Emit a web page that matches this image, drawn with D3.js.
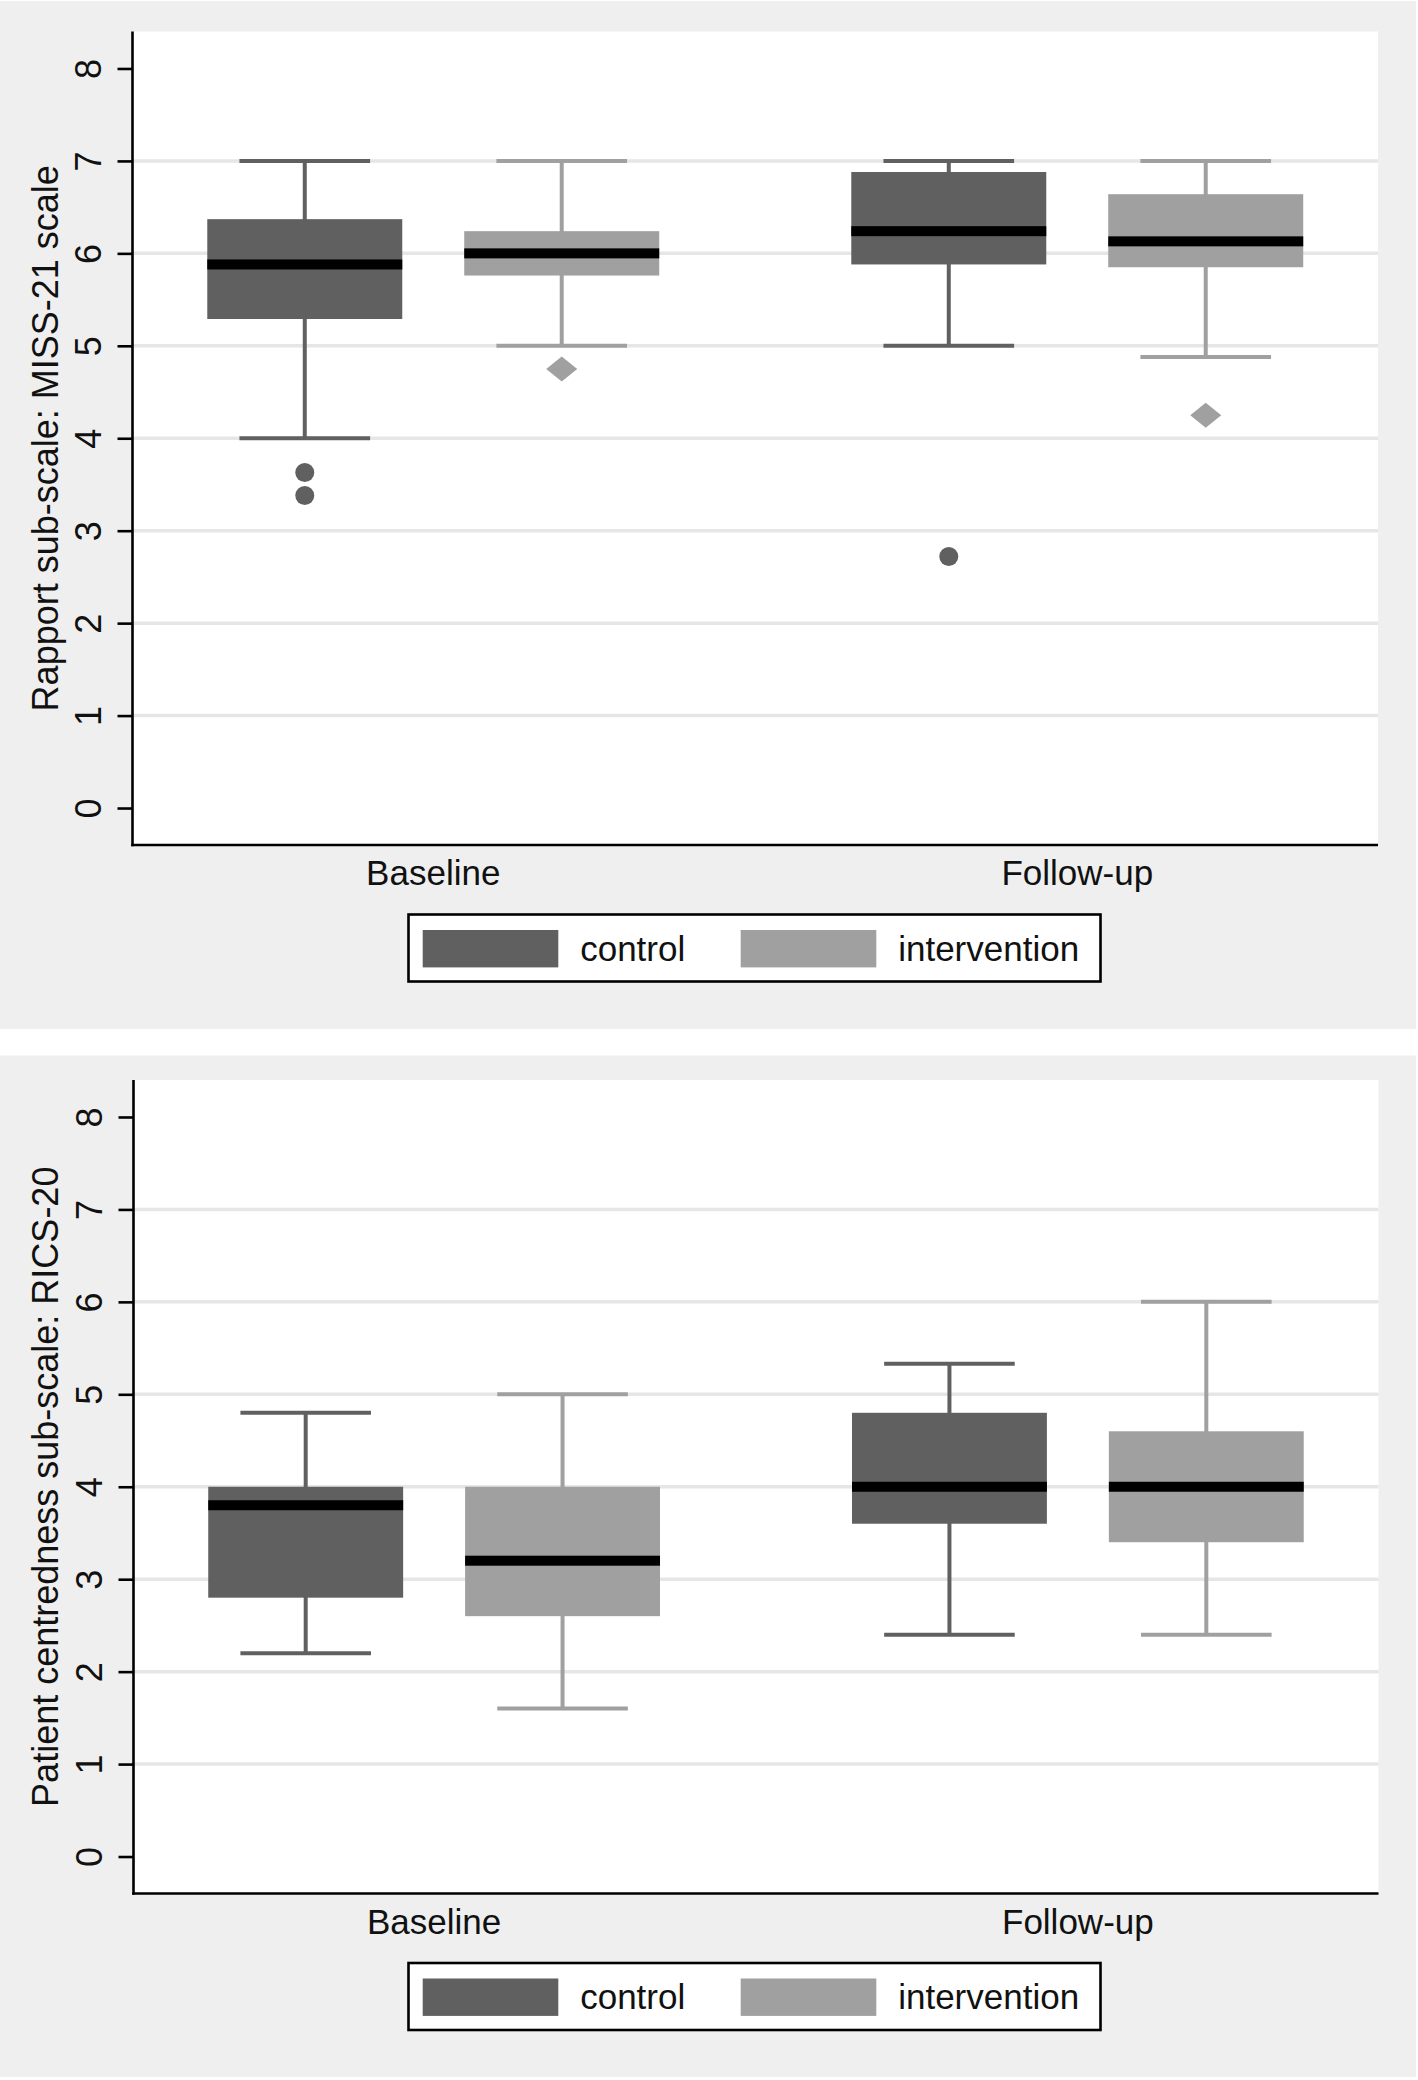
<!DOCTYPE html>
<html>
<head>
<meta charset="utf-8">
<script src="https://cdn.jsdelivr.net/npm/d3@7"></script>
<style>
  html, body { margin: 0; padding: 0; background: #ffffff; }
  svg { display: block; }
  text { font-family: "Liberation Sans", Arial, Helvetica, sans-serif; fill: #111; }
</style>
</head>
<body>
<svg id="chart" width="1418" height="2080"></svg>
<script>
// ---------------- DATA ----------------
const groups = ["Baseline", "Follow-up"];
const series = ["control", "intervention"];
const yTicks = [0, 1, 2, 3, 4, 5, 6, 7, 8];
const gridValues = [1, 2, 3, 4, 5, 6, 7];

// box stats per group: [lower whisker, Q1, median, Q3, upper whisker]
const rapportControlStats = [[4.0, 5.29, 5.88, 6.37, 7.0], [5.0, 5.88, 6.24, 6.88, 7.0]];
const rapportInterventionStats = [[5.0, 5.76, 6.0, 6.24, 7.0], [4.88, 5.85, 6.13, 6.64, 7.0]];
const rapportControlOutliers = [[3.63, 3.38], [2.72]];
const rapportInterventionOutliers = [[4.75], [4.25]];

const ricsControlStats = [[2.2, 2.8, 3.8, 4.0, 4.8], [2.4, 3.6, 4.0, 4.8, 5.33]];
const ricsInterventionStats = [[1.6, 2.6, 3.2, 4.0, 5.0], [2.4, 3.4, 4.0, 4.6, 6.0]];
const ricsControlOutliers = [[], []];
const ricsInterventionOutliers = [[], []];

const panelTitles = ["Rapport sub-scale: MISS-21 scale", "Patient centredness sub-scale: RICS-20"];

// ---------------- STYLE ----------------
const colors = { control: "#606060", intervention: "#a0a0a0" };
const bgGray = "#efefef";
const gridColor = "#e6e6e6";

const svg = d3.select("#chart");

function drawPanel(cfg) {
  const g = svg.append("g");
  // panel background
  g.append("rect").attr("x", 0).attr("y", cfg.bgTop).attr("width", 1416).attr("height", cfg.bgBottom - cfg.bgTop).attr("fill", bgGray);
  // plot area
  g.append("rect").attr("x", cfg.left).attr("y", cfg.top).attr("width", cfg.right - cfg.left).attr("height", cfg.bottom - cfg.top).attr("fill", "#ffffff");

  const y = d3.scaleLinear().domain([-0.4, 8.4]).range([cfg.bottom, cfg.top]);
  const xg = d3.scaleBand().domain(groups).range([cfg.left, cfg.right]).paddingInner(0.1).paddingOuter(0.017);
  const xs = d3.scaleBand().domain(series).range([0, xg.bandwidth()]).paddingInner(0.2412).paddingOuter(0.2484);

  // gridlines
  g.selectAll(".grid").data(gridValues).enter().append("line")
    .attr("x1", cfg.left).attr("x2", cfg.right)
    .attr("y1", d => y(d)).attr("y2", d => y(d))
    .attr("stroke", gridColor).attr("stroke-width", 3.5);

  // boxes
  const boxData = [];
  groups.forEach((grp, gi) => {
    boxData.push({ grp, s: "control", st: cfg.control[gi], out: cfg.controlOut[gi] });
    boxData.push({ grp, s: "intervention", st: cfg.intervention[gi], out: cfg.interventionOut[gi] });
  });
  const bw = xs.bandwidth();
  const capW = bw * 0.67;
  boxData.forEach(b => {
    const cx = xg(b.grp) + xs(b.s) + bw / 2;
    const col = colors[b.s];
    const [lo, q1, med, q3, hi] = b.st;
    // whiskers
    g.append("line").attr("x1", cx).attr("x2", cx).attr("y1", y(hi)).attr("y2", y(lo)).attr("stroke", col).attr("stroke-width", 4);
    g.append("line").attr("x1", cx - capW / 2).attr("x2", cx + capW / 2).attr("y1", y(hi)).attr("y2", y(hi)).attr("stroke", col).attr("stroke-width", 4);
    g.append("line").attr("x1", cx - capW / 2).attr("x2", cx + capW / 2).attr("y1", y(lo)).attr("y2", y(lo)).attr("stroke", col).attr("stroke-width", 4);
    // box
    g.append("rect").attr("x", cx - bw / 2).attr("width", bw).attr("y", y(q3)).attr("height", y(q1) - y(q3)).attr("fill", col);
    // median
    g.append("rect").attr("x", cx - bw / 2).attr("width", bw).attr("y", y(med) - 5).attr("height", 10).attr("fill", "#000");
    // outliers
    b.out.forEach(v => {
      if (b.s === "control") {
        g.append("circle").attr("cx", cx).attr("cy", y(v)).attr("r", 9.5).attr("fill", col);
      } else {
        const yy = y(v);
        g.append("path").attr("d", `M${cx - 15.5},${yy} L${cx},${yy - 12.5} L${cx + 15.5},${yy} L${cx},${yy + 12.5} Z`).attr("fill", col);
      }
    });
  });

  // y axis
  const yAxis = d3.axisLeft(y).tickValues(yTicks).tickSize(15).tickSizeOuter(0).tickFormat(d3.format("d"));
  const ya = g.append("g").attr("transform", `translate(${cfg.left},0)`).call(yAxis);
  ya.select(".domain").remove();
  ya.selectAll(".tick line").attr("stroke", "#000").attr("stroke-width", 2.6);
  ya.selectAll(".tick text")
    .attr("x", null).attr("dy", null)
    .attr("transform", "translate(-32,0) rotate(-90)")
    .attr("text-anchor", "middle")
    .attr("y", 0)
    .style("font-size", "36px").style("font-family", '"Liberation Sans", Arial, sans-serif').attr("fill", "#111");
  g.append("line").attr("x1", cfg.left).attr("x2", cfg.left).attr("y1", cfg.top).attr("y2", cfg.bottom + 1.3).attr("stroke", "#000").attr("stroke-width", 2.6);
  g.append("line").attr("x1", cfg.left - 1.3).attr("x2", cfg.right).attr("y1", cfg.bottom).attr("y2", cfg.bottom).attr("stroke", "#000").attr("stroke-width", 2.6);

  // x labels
  g.selectAll(".xl").data(groups).enter().append("text")
    .attr("x", d => xg(d) + xg.bandwidth() / 2).attr("y", cfg.bottom + 40)
    .attr("text-anchor", "middle").style("font-size", "35px").text(d => d);

  // y axis title
  g.append("text")
    .attr("transform", `translate(58,${(cfg.top + cfg.bottom) / 2}) rotate(-90)`)
    .attr("text-anchor", "middle").style("font-size", "36px").text(cfg.title);

  // legend
  const lgTop = cfg.bottom + 69.5;
  const lgLeft = 408.5, lgRight = 1100.5;
  g.append("rect").attr("x", lgLeft).attr("y", lgTop).attr("width", lgRight - lgLeft).attr("height", 67)
    .attr("fill", "#fff").attr("stroke", "#000").attr("stroke-width", 2.6);
  series.forEach((s, i) => {
    const sx = 422.7 + i * 318;
    g.append("rect").attr("x", sx).attr("y", lgTop + 15.5).attr("width", 135.6).attr("height", 37.4).attr("fill", colors[s]);
    g.append("text").attr("x", sx + 157.5).attr("y", lgTop + 46).style("font-size", "35px").text(s);
  });
}

drawPanel({
  bgTop: 1, bgBottom: 1029, left: 132.5, right: 1378, top: 31.5, bottom: 845,
  control: rapportControlStats, intervention: rapportInterventionStats,
  controlOut: rapportControlOutliers, interventionOut: rapportInterventionOutliers,
  title: panelTitles[0]
});
drawPanel({
  bgTop: 1055.5, bgBottom: 2077, left: 133.5, right: 1378.5, top: 1080, bottom: 1893.5,
  control: ricsControlStats, intervention: ricsInterventionStats,
  controlOut: ricsControlOutliers, interventionOut: ricsInterventionOutliers,
  title: panelTitles[1]
});
</script>
</body>
</html>
